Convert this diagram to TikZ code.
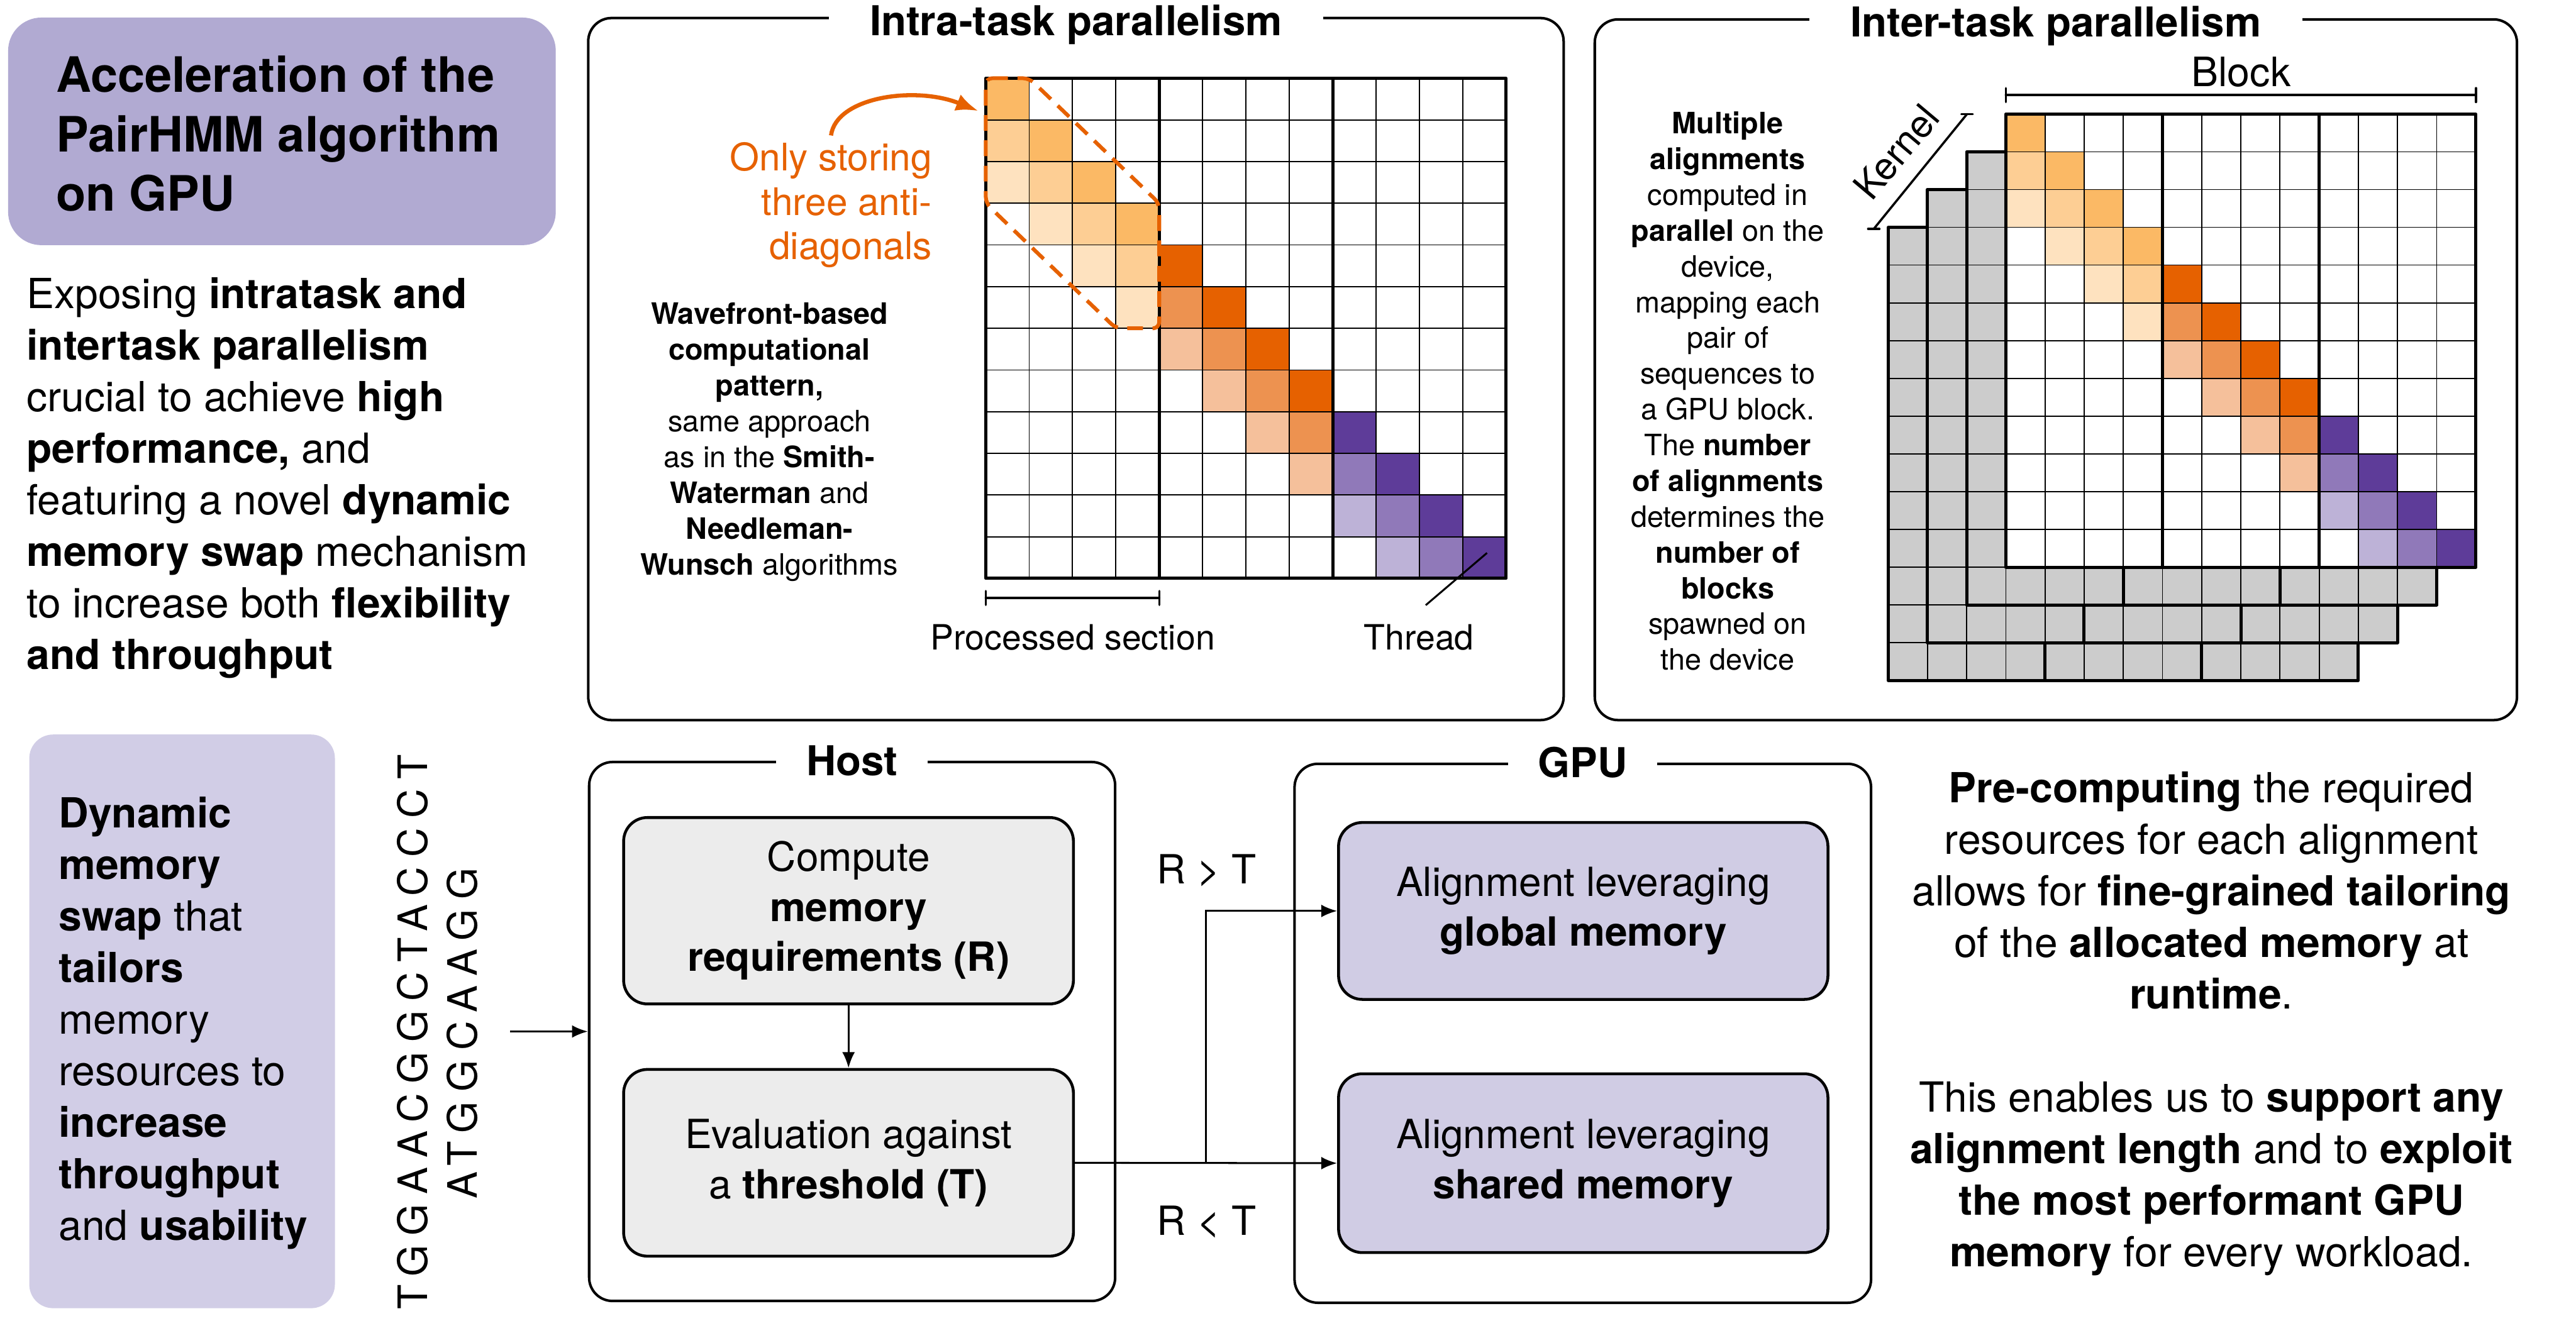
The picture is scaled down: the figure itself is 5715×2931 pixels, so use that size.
\documentclass[tikz,border=0pt]{standalone}
\usepackage{fontspec}
\setmainfont{TeX Gyre Heros}
\usetikzlibrary{arrows.meta, positioning, calc, fit}

\definecolor{accent}{HTML}{E66100}
\definecolor{titlelav}{HTML}{B1AAD2}
\definecolor{swaplav}{HTML}{D1CDE6}
\definecolor{gpulav}{HTML}{D0CCE4}
\definecolor{hostgray}{HTML}{ECECEC}
\definecolor{layergray}{HTML}{CCCCCC}
% wavefront colours: wv<block><distance to diagonal>
\definecolor{wv00}{HTML}{FBB965}
\definecolor{wv01}{HTML}{FDCE94}
\definecolor{wv02}{HTML}{FEE2BF}
\definecolor{wv10}{HTML}{E66100}
\definecolor{wv11}{HTML}{ED9250}
\definecolor{wv12}{HTML}{F5C09B}
\definecolor{wv20}{HTML}{5E3C99}
\definecolor{wv21}{HTML}{9079B9}
\definecolor{wv22}{HTML}{BDB2D7}

\tikzset{
  gridthin/.style={line width=0.35pt},
  gridthick/.style={line width=1pt, line join=round},
}

% 12x12 cells, thick line every 4 columns
\newcommand{\cellgrid}[4]{%
  \foreach \gi in {1,...,11}{
    \draw[gridthin] ({#1+\gi*#3},{#2}) -- ++(0,{12*#4});
    \draw[gridthin] ({#1},{#2+\gi*#4}) -- ++({12*#3},0);
  }
  \foreach \gi in {4,8}{
    \draw[gridthick] ({#1+\gi*#3},{#2}) -- ++(0,{12*#4});
  }
  \draw[gridthick] ({#1},{#2}) rectangle ({#1+12*#3},{#2+12*#4});
}
\newcommand{\wavegrid}[4]{%
  \fill[white] ({#1},{#2}) rectangle ({#1+12*#3},{#2+12*#4});
  \foreach \rw in {0,...,11}{
    \foreach \dg in {0,1,2}{
      \pgfmathtruncatemacro{\cl}{\rw-\dg}
      \ifnum\cl>-1
        \pgfmathtruncatemacro{\bk}{floor(\cl/4)}
        \edef\wcol{wv\bk\dg}
        \fill[fill=\wcol] ({#1+\cl*#3},{#2+\rw*#4}) rectangle ++(#3,#4);
      \fi
    }
  }
  \cellgrid{#1}{#2}{#3}{#4}
}
\newcommand{\graylayer}[4]{%
  \fill[layergray] ({#1},{#2}) rectangle ({#1+12*#3},{#2+12*#4});
  \cellgrid{#1}{#2}{#3}{#4}
}

\begin{document}
\begin{tikzpicture}[x=0.005cm, y=-0.005cm,
    panel/.style={draw, line width=0.8pt, rounded corners=7.4pt, inner sep=0pt},
    paneltitle/.style={fill=white, inner xsep=13pt, inner ysep=2pt,
                       font=\bfseries\fontsize{13}{15}\selectfont},
    stepbox/.style={draw, line width=0.9pt, rounded corners=7.5pt, fill=hostgray,
                    align=center, minimum width=142.1pt, inner sep=0pt,
                    font=\fontsize{12.7}{15.8}\selectfont},
    gpubox/.style={stepbox, fill=gpulav, minimum width=154.6pt},
    flow/.style={-{Latex[length=5pt,width=4pt]}, line width=0.6pt},
    bigtext/.style={font=\fontsize{13.1}{16.3}\selectfont, inner sep=0pt},
    note/.style={font=\fontsize{9.3}{11.3}\selectfont, align=center, inner sep=0pt},
    scalelabel/.style={font=\fontsize{11}{13}\selectfont, inner sep=0pt},
    cmp/.style={font=\fontsize{12.7}{15}\selectfont, inner sep=0pt},
    dna/.style={font=\fontsize{12.8}{15}\selectfont\addfontfeature{LetterSpace=24}, inner sep=0pt},
    bracket/.style={line width=0.7pt, line cap=round},
    store/.style={draw=accent, dashed, dash pattern=on 5pt off 3pt, line width=1.2pt, rounded corners=2pt},
    pointer/.style={accent, line width=1.3pt, -{Latex[length=7pt,width=5.5pt]}}]

  \useasboundingbox (0,0) rectangle (5715,2931);

  % Summary - top left
  \node[fill=titlelav, rounded corners=10.5pt, inner sep=0pt, fit={(18,39) (1233,544)}] (headbox) {};
  \node[font=\bfseries\fontsize{15.4}{18.8}\selectfont, align=left, anchor=west, inner sep=0pt]
    (headline) at (123,297) {Acceleration of the\\PairHMM algorithm\\on GPU};
  \node[bigtext, align=left, anchor=west] (intro) at (58,1061)
    {Exposing \textbf{intratask and}\\\textbf{intertask parallelism}\\crucial to achieve \textbf{high}\\
     \textbf{performance,} and\\featuring a novel \textbf{dynamic}\\\textbf{memory swap} mechanism\\
     to increase both \textbf{flexibility}\\\textbf{and throughput}};

  % Intra-task panel
  \node[panel, fit={(1305,40) (3469,1598)}] (intra) {};
  \node[paneltitle, yshift=-2.5pt] (intratitle) at (intra.north) {Intra-task parallelism};
  \wavegrid{2187}{173.6}{96.2}{92.5}
  \draw[store] (2187,173.6) -- (2283.2,173.6) -- (2571.8,451.1) -- (2571.8,728.6)
    -- (2475.6,728.6) -- (2187,451.1) -- cycle;
  \node[anchor=east, align=right, text=accent, font=\fontsize{12}{14}\selectfont, inner sep=0pt]
    (storetext) at (2069,455) {Only storing\\three anti-\\diagonals};
  \coordinate (storeend) at (2170,246);
  \draw[pointer] ([yshift=2pt]storetext.north) .. controls (1855,215) and (2030,190) .. (storeend);
  \node[note] (wavenote) at (1707,981)
    {\textbf{Wavefront-based}\\\textbf{computational}\\\textbf{pattern,}\\same approach\\
     as in the \textbf{Smith-}\\\textbf{Waterman} and\\\textbf{Needleman-}\\\textbf{Wunsch} algorithms};

  % Processed section and thread
  \coordinate (procl) at (2187,1327);
  \coordinate (procr) at (2572,1327);
  \draw[bracket] (procl) -- (procr);
  \draw[bracket] ([yshift=2.2pt]procl) -- ([yshift=-2.2pt]procl);
  \draw[bracket] ([yshift=2.2pt]procr) -- ([yshift=-2.2pt]procr);
  \node[scalelabel] (proclabel) at (2380,1415) {Processed section};
  \node[scalelabel] (threadlabel) at (3148,1415) {Thread};
  \coordinate (threadfoot) at (3163,1343);
  \coordinate (threadcell) at (3299,1227);
  \draw[line width=0.6pt] (threadfoot) -- (threadcell);

  % Inter-task panel
  \node[panel, fit={(3538,43) (5584,1598)}] (inter) {};
  \node[paneltitle, yshift=-2.5pt] (intertitle) at (inter.north) {Inter-task parallelism};
  \foreach \k in {3,2,1}{
    \graylayer{4450-\k*86.9}{253+\k*83.8}{86.9}{83.8}
  }
  \wavegrid{4450}{253}{86.9}{83.8}

  % Block and kernel brackets
  \coordinate (blockl) at (4450,211);
  \coordinate (blockr) at (5493,211);
  \draw[bracket] (blockl) -- (blockr);
  \draw[bracket] ([yshift=2.2pt]blockl) -- ([yshift=-2.2pt]blockl);
  \draw[bracket] ([yshift=2.2pt]blockr) -- ([yshift=-2.2pt]blockr);
  \node[font=\fontsize{12.8}{15}\selectfont, inner sep=0pt] (blocklabel) at (4972,160) {Block};
  \coordinate (kernbot) at (4157,508);
  \coordinate (kerntop) at (4364,253);
  \draw[bracket] (kernbot) -- (kerntop);
  \draw[bracket] ([xshift=-1.8pt]kernbot) -- ([xshift=1.8pt]kernbot);
  \draw[bracket] ([xshift=-1.8pt]kerntop) -- ([xshift=1.8pt]kerntop);
  \node[font=\fontsize{12}{14}\selectfont, inner sep=0pt, rotate=50] (kernlabel) at (4207,337) {Kernel};
  \node[note] (multinote) at (3833,868)
    {\textbf{Multiple}\\\textbf{alignments}\\computed in\\\textbf{parallel} on the\\device,\\
     mapping each\\pair of\\sequences to\\a GPU block.\\The \textbf{number}\\
     \textbf{of alignments}\\determines the\\\textbf{number of}\\\textbf{blocks}\\spawned on\\the device};

  % Dynamic memory swap - bottom left
  \node[fill=swaplav, rounded corners=7.5pt, inner sep=0pt, fit={(65,1630) (743,2903)}] (swapbox) {};
  \node[bigtext, align=left, anchor=west] (swaptext) at (129,2270)
    {\textbf{Dynamic}\\\textbf{memory}\\\textbf{swap} that\\\textbf{tailors}\\memory\\
     resources to\\\textbf{increase}\\\textbf{throughput}\\and \textbf{usability}};
  \node[dna, rotate=90] (seqa) at (915,2290) {TGGAACGGCTACCCT};
  \node[dna, rotate=90] (seqb) at (1026,2293) {ATGGCAAGG};

  % Host
  \node[panel, fit={(1307,1691) (2474,2887)}] (host) {};
  \node[paneltitle, inner xsep=9.5pt] (hosttitle) at (host.north) {Host};
  \node[stepbox, minimum height=58.9pt] (compute) at (1882.5,2021)
    {Compute\\\textbf{memory}\\\textbf{requirements (R)}};
  \node[stepbox, minimum height=59pt, below=19.8pt of compute] (evaluate)
    {Evaluation against\\a \textbf{threshold (T)}};

  % GPU
  \node[panel, fit={(2872,1695) (4151,2891)}] (gpu) {};
  \node[paneltitle, inner xsep=9.5pt] (gputitle) at (gpu.north) {GPU};
  \node[gpubox, minimum height=55.9pt] (global) at (3512.5,2021.5)
    {Alignment leveraging\\\textbf{global memory}};
  \node[gpubox, minimum height=56.5pt, below=22.6pt of global] (shared)
    {Alignment leveraging\\\textbf{shared memory}};

  % Connectors
  \coordinate (dnaout) at (1132,2289);
  \draw[flow] (dnaout) -- (host.west);
  \draw[flow] (compute) -- (evaluate);
  \draw[flow] (evaluate.east) -- (shared.west);
  \coordinate (split) at ($(evaluate.east)!0.5!(shared.west)$);
  \draw[flow] (split) |- (global.west);
  \node[cmp] (gtlabel) at (2677,1931) {R > T};
  \node[cmp] (ltlabel) at (2677,2711) {R < T};

  % Right text
  \node[bigtext, align=center] (tailor) at (4906,2272)
    {\textbf{Pre-computing} the required\\resources for each alignment\\
     allows for \textbf{fine-grained tailoring}\\of the \textbf{allocated memory} at\\
     \textbf{runtime}.\\[16.3pt]
     This enables us to \textbf{support any}\\\textbf{alignment length} and to \textbf{exploit}\\
     \textbf{the most performant GPU}\\\textbf{memory} for every workload.};
\end{tikzpicture}
\end{document}
